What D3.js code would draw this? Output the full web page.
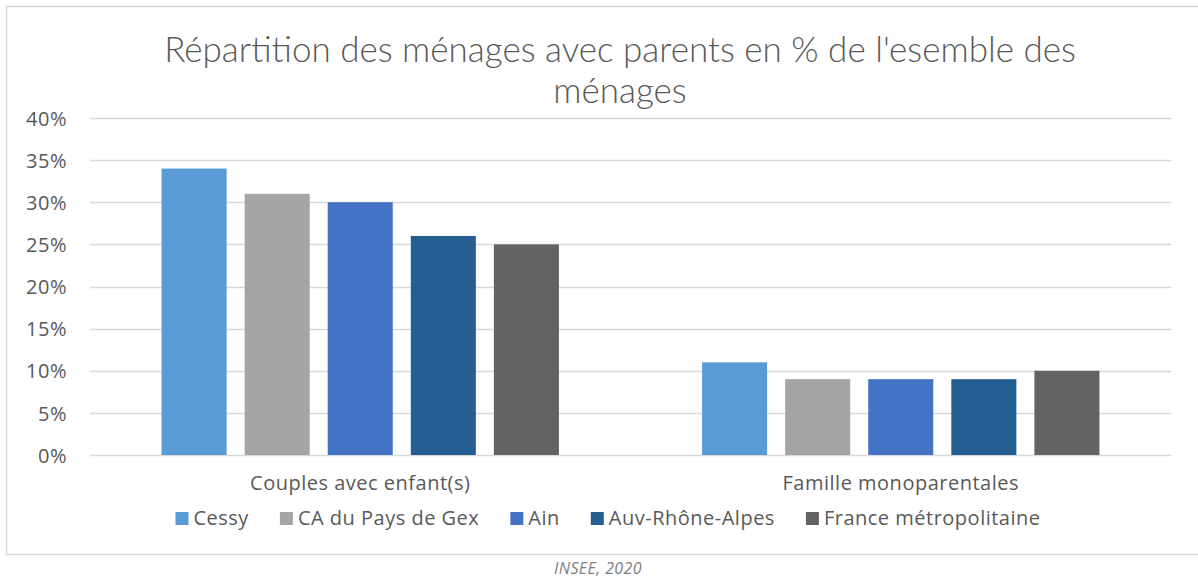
<!DOCTYPE html>
<html>
<head>
  <meta charset="utf-8">
  <title>Répartition des ménages</title>
  <script src="https://d3js.org/d3.v7.min.js"></script>
  <style>
    body { margin: 0; background: #fff; }
    text { font-family: "Open Sans", Lato, sans-serif; fill: #595959; }
  </style>
</head>
<body>
<div id="output"></div>

<script type="text/javascript">

  // data
  var categories = ["Couples avec enfant(s)", "Famille monoparentales"];
  var seriesNames = ["Cessy", "CA du Pays de Gex", "Ain", "Auv-Rhône-Alpes", "France métropolitaine"];
  var cessy = [34, 11];
  var caGex = [31, 9];
  var ain = [30, 9];
  var auvRA = [26, 9];
  var france = [25, 10];
  var yTicks = [0, 5, 10, 15, 20, 25, 30, 35, 40];
  var colors = ["#5B9BD5", "#A5A5A5", "#4472C4", "#255E91", "#636363"];

  var allSeries = [cessy, caGex, ain, auvRA, france];

  var w = 1198, h = 579;
  var plot = {left: 90, right: 1171, top: 118, bottom: 455};

  var svg = d3.select("#output").append("svg")
          .attr("width", w)
          .attr("height", h);

  // chart frame (runs past the right edge like the original)
  svg.append("rect")
          .attr("x", 6.5).attr("y", 6.5)
          .attr("width", 1240).attr("height", 548)
          .attr("fill", "none")
          .attr("stroke", "#D9D9D9")
          .attr("stroke-width", 1.5);

  var x0 = d3.scaleBand()
          .domain(categories)
          .range([plot.left, plot.right])
          .paddingInner(0.2315)
          .paddingOuter(0.1157);

  var x1 = d3.scaleBand()
          .domain(seriesNames)
          .range([0, x0.bandwidth()])
          .paddingInner(0.217)
          .paddingOuter(0.1085);

  var y = d3.scaleLinear()
          .domain([0, 40])
          .range([plot.bottom, plot.top]);

  // gridlines
  svg.append("g")
          .selectAll("line")
          .data(yTicks)
          .enter()
          .append("line")
          .attr("x1", plot.left)
          .attr("x2", plot.right)
          .attr("y1", function(d){ return Math.round(y(d)) + 0.5 })
          .attr("y2", function(d){ return Math.round(y(d)) + 0.5 })
          .attr("stroke", "#D9D9D9")
          .attr("stroke-width", 1.5);

  // y axis labels
  var yAxis = d3.axisLeft(y)
          .tickValues(yTicks)
          .tickFormat(function(d){ return d + "%" })
          .tickSize(0)
          .tickPadding(0);

  var yg = svg.append("g")
          .attr("transform", "translate(67,0)")
          .call(yAxis);
  yg.select(".domain").remove();
  yg.selectAll("text")
          .attr("font-family", null)
          .style("font-size", "20px")
          .style("letter-spacing", "0.5px")
          .attr("dy", "0.36em");

  // bars
  var groups = svg.append("g")
          .selectAll("g")
          .data(seriesNames)
          .enter()
          .append("g")
          .attr("fill", function(d, i){ return colors[i] });

  groups.selectAll("rect")
          .data(function(name, i){
            return categories.map(function(c, j){ return {cat: c, name: name, v: allSeries[i][j]} })
          })
          .enter()
          .append("rect")
          .attr("x", function(d){ return x0(d.cat) + x1(d.name) })
          .attr("width", x1.bandwidth())
          .attr("y", function(d){ return y(d.v) })
          .attr("height", function(d){ return y(0) - y(d.v) });

  // category labels
  var xAxis = d3.axisBottom(x0).tickSize(0).tickPadding(0);
  var xg = svg.append("g")
          .attr("transform", "translate(0,472)")
          .call(xAxis);
  xg.select(".domain").remove();
  xg.selectAll("text")
          .attr("font-family", null)
          .style("font-size", "20px")
          .style("letter-spacing", "0.5px")
          .attr("dy", "0.88em");

  // title
  var title = svg.append("text")
          .attr("text-anchor", "middle")
          .style("font-family", "Lato, sans-serif")
          .style("font-size", "35px")
          .style("font-weight", 300);
  title.append("tspan").attr("x", 620).attr("y", 62)
          .text("Répartition des ménages avec parents en % de l'esemble des");
  title.append("tspan").attr("x", 620).attr("y", 103)
          .text("ménages");

  // legend
  var legend = svg.append("g");
  var lx = 0;
  seriesNames.forEach(function(name, i){
    var item = legend.append("g").attr("transform", "translate(" + lx + ",0)");
    item.append("rect")
            .attr("x", 0).attr("y", -13)
            .attr("width", 13).attr("height", 13)
            .attr("fill", colors[i]);
    var t = item.append("text")
            .attr("x", 18).attr("y", 0)
            .style("font-size", "20px")
            .style("letter-spacing", "0.5px")
            .text(name);
    lx += 18 + t.node().getComputedTextLength() + 31;
  });
  var legendW = lx - 31;
  legend.attr("transform", "translate(" + (608 - legendW / 2) + ",525)");

  // source
  svg.append("text")
          .attr("x", 598).attr("y", 574)
          .attr("text-anchor", "middle")
          .style("font-size", "16px")
          .style("letter-spacing", "0.4px")
          .style("font-style", "italic")
          .style("fill", "#7F7F7F")
          .text("INSEE, 2020");

</script>

</body>
</html>
